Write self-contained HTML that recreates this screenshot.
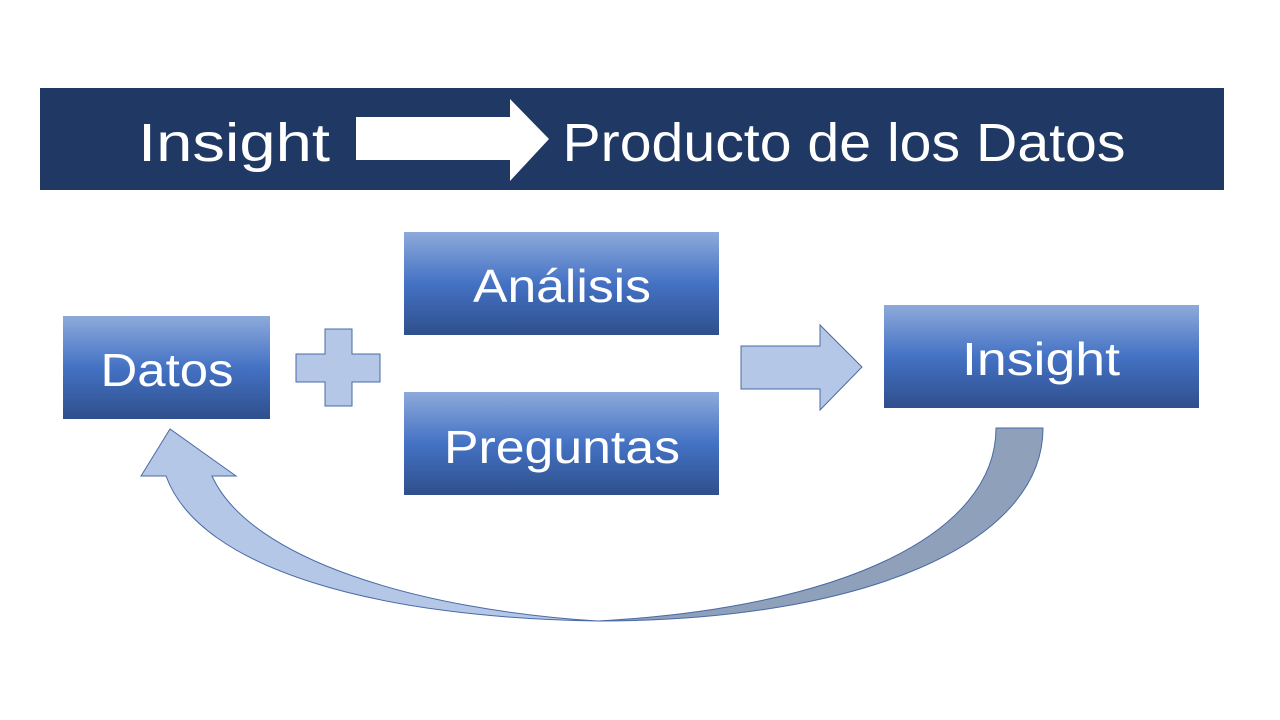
<!DOCTYPE html>
<html><head><meta charset="utf-8"><style>
html,body{margin:0;padding:0;background:#fff;}
svg{display:block;}
text{font-family:"Liberation Sans",sans-serif;fill:#fff;}
</style></head><body>
<svg width="1280" height="720" viewBox="0 0 1280 720" xmlns="http://www.w3.org/2000/svg">
<defs>
<linearGradient id="g" x1="0" y1="0" x2="0" y2="1">
<stop offset="0" stop-color="#8eaadb"/>
<stop offset="0.5" stop-color="#4472c4"/>
<stop offset="1" stop-color="#2f4f8c"/>
</linearGradient>
</defs>
<rect x="40" y="88" width="1184" height="102" fill="#203864"/>
<text x="234" y="161" font-size="54" text-anchor="middle" textLength="192" lengthAdjust="spacingAndGlyphs">Insight</text>
<polygon points="356,117 510,117 510,99 549,139 510,181 510,160 356,160" fill="#fff"/>
<text x="844" y="161" font-size="54" text-anchor="middle" textLength="563" lengthAdjust="spacingAndGlyphs">Producto de los Datos</text>

<rect x="63" y="316" width="207" height="103" fill="url(#g)"/>
<text x="167" y="386" font-size="46" text-anchor="middle" textLength="133" lengthAdjust="spacingAndGlyphs">Datos</text>

<polygon points="325,329 352,329 352,354 380,354 380,382 352,382 352,406 325,406 325,382 296,382 296,354 325,354" fill="#b4c7e7" stroke="#4a6aa5" stroke-width="1"/>

<rect x="404" y="232" width="315" height="103" fill="url(#g)"/>
<text x="562" y="302" font-size="46" text-anchor="middle" textLength="178" lengthAdjust="spacingAndGlyphs">Análisis</text>
<rect x="404" y="392" width="315" height="103" fill="url(#g)"/>
<text x="562" y="463" font-size="46" text-anchor="middle" textLength="236" lengthAdjust="spacingAndGlyphs">Preguntas</text>

<polygon points="741,346 820,346 820,325 862,367 820,410 820,389 741,389" fill="#b4c7e7" stroke="#4a6aa5" stroke-width="1"/>

<rect x="884" y="305" width="315" height="103" fill="url(#g)"/>
<text x="1041" y="375" font-size="46" text-anchor="middle" textLength="158" lengthAdjust="spacingAndGlyphs">Insight</text>

<path d="M996,428 L1043,428 C1043,545 860,621 598,621 C840,608 996,535 996,428 Z" fill="#8fa0ba" stroke="#4a6aa5" stroke-width="1"/>
<path d="M598,621 C380,618 200,570 166,476 L141,476 L170,429 L236,476 L212,476 C250,560 420,610 598,621 Z" fill="#b4c7e7" stroke="#4a6aa5" stroke-width="1"/>
</svg>
</body></html>
